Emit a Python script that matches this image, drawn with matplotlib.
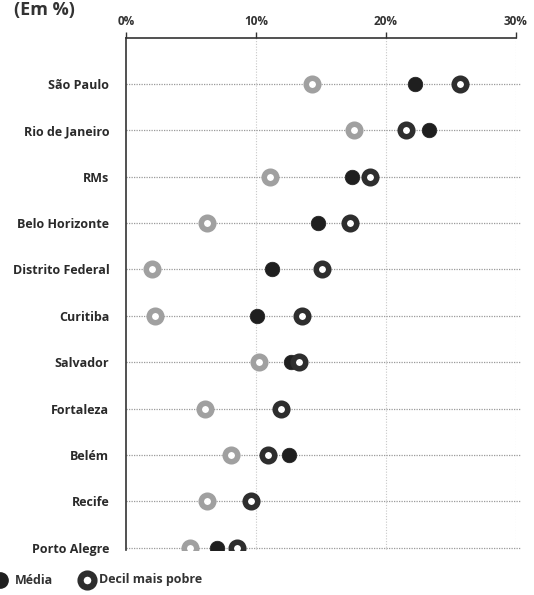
import matplotlib
matplotlib.use("Agg")
import matplotlib.pyplot as plt
from matplotlib.lines import Line2D

plt.rcParams['font.family'] = ['Open Sans', 'DejaVu Sans']

cities = ["São Paulo", "Rio de Janeiro", "RMs", "Belo Horizonte", "Distrito Federal",
          "Curitiba", "Salvador", "Fortaleza", "Belém", "Recife", "Porto Alegre"]
serie_cinza = [14.3, 17.5, 11.1, 6.2, 2.0, 2.2, 10.2, 6.1, 8.1, 6.2, 4.9]
media = [22.2, 23.3, 17.4, 14.8, 11.2, 10.1, 12.7, 12.0, 12.5, 9.7, 7.0]
decil_pobre = [25.7, 21.5, 18.8, 17.2, 15.1, 13.5, 13.3, 11.9, 10.9, 9.6, 8.55]
xticks = [0, 10, 20, 30]
xticklabels = ["0%", "10%", "20%", "30%"]
title = "(Em %)"
legend_labels = ["Média", "Decil mais pobre"]

W, H = 534, 595
fig = plt.figure(figsize=(W / 100, H / 100), dpi=100)
ax = fig.add_axes([126 / W, 1 - 550 / H, (516 - 126) / W, (550 - 38) / H])

ypos = list(range(len(cities)))
ax.set_xlim(0, 30)
ax.set_ylim(len(cities) - 1 + 0.05, -0.99)

# grid
for xv in xticks[1:]:
    ax.axvline(xv, color="#c8c8c8", lw=0.8, ls=(0, (1, 1.5)), zorder=0)
ax.hlines(ypos, 0, 30.4, color="#9a9a9a", lw=0.9, ls=(0, (1, 1)), zorder=1, clip_on=False)

gray_c = "#a0a0a0"
dark_c = "#2e2e2e"
black_c = "#1f1f1f"

ax.plot(serie_cinza, ypos, ls="none", marker="o", ms=9, mew=4.0, mfc="white",
        mec=gray_c, zorder=3)
ax.plot(media, ypos, ls="none", marker="o", ms=10.5, mew=0.5, mfc=black_c,
        mec=black_c, zorder=4)
ax.plot(decil_pobre, ypos, ls="none", marker="o", ms=9, mew=4.0, mfc="white",
        mec=dark_c, zorder=5)

# axes styling
for s in ["right", "bottom"]:
    ax.spines[s].set_visible(False)
ax.spines["top"].set_color("#333333")
ax.spines["top"].set_linewidth(1.2)
ax.spines["left"].set_color("#333333")
ax.spines["left"].set_linewidth(1.2)
ax.xaxis.tick_top()
ax.set_xticks(xticks)
ax.set_xticklabels(xticklabels, fontsize=8.5, fontweight="bold", color="#333333")
ax.tick_params(axis="x", direction="out", length=4.5, width=1.0, color="#333333", pad=3)
ax.set_yticks(ypos)
ax.set_yticklabels(cities, fontsize=9, fontweight="bold", color="#2a2a2a")
ax.tick_params(axis="y", length=0, pad=12)

fig.text(14 / W, 1 - 15 / H, title, fontsize=13, fontweight="bold", color="#333333",
         ha="left", va="baseline")

# legend
ly = 1 - 580 / H
fig.add_artist(Line2D([0 / W], [ly], transform=fig.transFigure, ls="none", marker="o",
                      ms=11, mfc=black_c, mec=black_c))
fig.text(15 / W, ly, legend_labels[0], fontsize=9, fontweight="bold", color="#333333",
         ha="left", va="center")
fig.add_artist(Line2D([87 / W], [ly], transform=fig.transFigure, ls="none", marker="o",
                      ms=10, mew=4.5, mfc="white", mec=dark_c))
fig.text(99 / W, ly, legend_labels[1], fontsize=9, fontweight="bold", color="#333333",
         ha="left", va="center")

fig.savefig("out.png", dpi=100)
